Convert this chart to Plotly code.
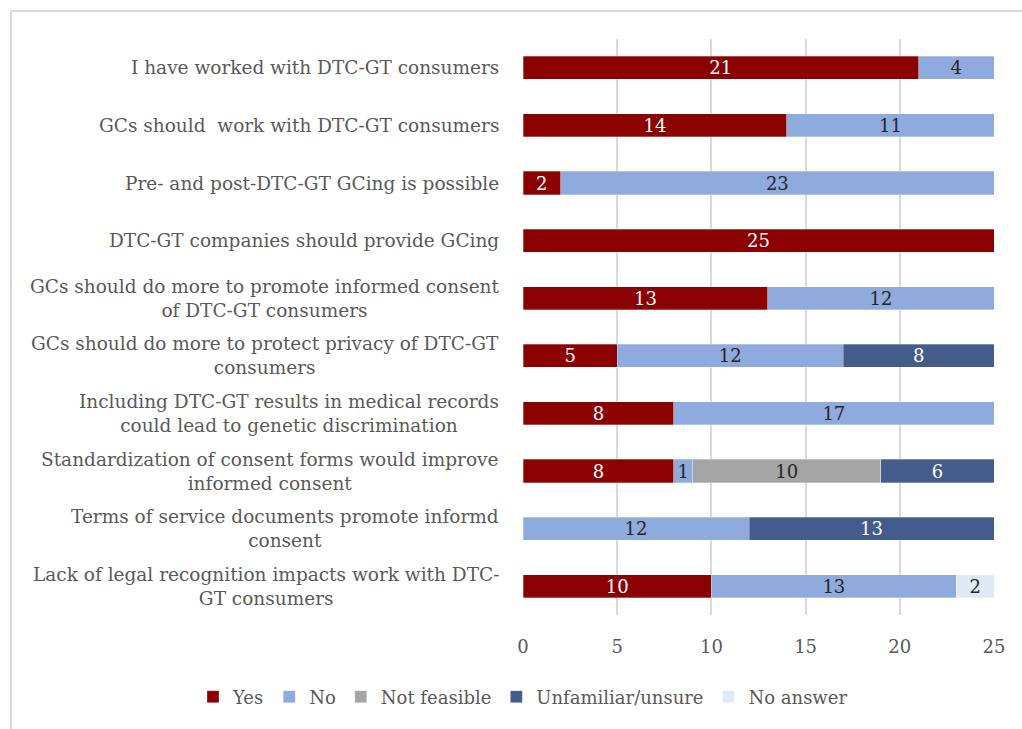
import plotly.graph_objects as go

categories = [
    "I have worked with DTC-GT consumers",
    "GCs should  work with DTC-GT consumers",
    "Pre- and post-DTC-GT GCing is possible",
    "DTC-GT companies should provide GCing",
    "GCs should do more to promote informed consent<br>of DTC-GT consumers",
    "GCs should do more to protect privacy of DTC-GT<br>consumers",
    "Including DTC-GT results in medical records<br>could lead to genetic discrimination",
    "Standardization of consent forms would improve<br>informed consent",
    "Terms of service documents promote informd<br>consent",
    "Lack of legal recognition impacts work with DTC-<br>GT consumers",
]
yes_vals = [21, 14, 2, 25, 13, 5, 8, 8, None, 10]
no_vals = [4, 11, 23, None, 12, 12, 17, 1, 12, 13]
not_feasible_vals = [None, None, None, None, None, None, None, 10, None, None]
unsure_vals = [None, None, None, None, None, 8, None, 6, 13, None]
no_answer_vals = [None, None, None, None, None, None, None, None, None, 2]
x_ticks = [0, 5, 10, 15, 20, 25]

series = [
    ("Yes", yes_vals, "#8B0000", "#FFFFFF"),
    ("No", no_vals, "#8FAADC", "#262626"),
    ("Not feasible", not_feasible_vals, "#A5A5A5", "#262626"),
    ("Unfamiliar/unsure", unsure_vals, "#445C8C", "#FFFFFF"),
    ("No answer", no_answer_vals, "#DEEBF7", "#262626"),
]

FONT = "DejaVu Serif"
ids = list(range(len(categories)))

fig = go.Figure()
for name, vals, color, tcolor in series:
    fig.add_trace(go.Bar(
        y=ids, x=vals, name=name, orientation="h",
        marker=dict(color=color, line=dict(color="rgba(255,255,255,0.6)", width=0.5)),
        text=[("" if v is None else str(v)) for v in vals],
        textposition="inside", insidetextanchor="middle", textangle=0,
        textfont=dict(family=FONT, size=18, color=tcolor),
        constraintext="none",
        hoverinfo="skip",
    ))

W, H = 1022, 729
L, R, T, B = 523, 28, 39, 114
pw, ph = W - L - R, H - T - B

for i, c in enumerate(categories):
    fig.add_annotation(
        x=0, xref="paper", y=i, yref="y", xanchor="right", yanchor="middle",
        xshift=-22, text=c, showarrow=False, align="center",
        font=dict(family=FONT, size=18.5, color="#595959"),
    )

# outer frame lines (top and left)
fx = (11 - L) / pw
fy = (H - B - 11) / ph
fig.add_shape(type="line", xref="paper", yref="paper", x0=fx, x1=(W + 10 - L) / pw, y0=fy, y1=fy,
              line=dict(color="#D9D9D9", width=2))
fig.add_shape(type="line", xref="paper", yref="paper", x0=fx, x1=fx, y0=fy, y1=-(B + 10) / ph,
              line=dict(color="#D9D9D9", width=2))

fig.update_layout(
    width=W, height=H,
    margin=dict(l=L, r=R, t=T, b=B, autoexpand=False),
    barmode="stack", bargap=0.6,
    plot_bgcolor="white", paper_bgcolor="white",
    font=dict(family=FONT, color="#595959"),
    xaxis=dict(range=[0, 25], tickvals=x_ticks, showgrid=True,
               gridcolor="#D9D9D9", gridwidth=1.5, zeroline=False, showline=False,
               ticks="outside", ticklen=15, tickcolor="rgba(0,0,0,0)",
               tickfont=dict(family=FONT, size=18, color="#595959")),
    yaxis=dict(range=[len(categories) - 0.5, -0.5], showticklabels=False, showgrid=False,
               zeroline=False, showline=False),
    legend=dict(orientation="h", xref="paper", yref="paper",
                x=(193 - L) / pw, y=-(697 - (H - B)) / ph,
                xanchor="left", yanchor="middle",
                font=dict(family=FONT, size=18, color="#595959"),
                traceorder="normal", itemwidth=30),
    showlegend=True,
)

fig.write_html("out.html")
